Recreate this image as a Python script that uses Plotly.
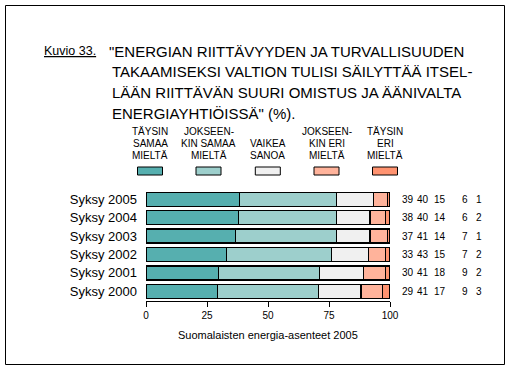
import plotly.graph_objects as go

# ---- data ----
years = ["Syksy 2005", "Syksy 2004", "Syksy 2003", "Syksy 2002", "Syksy 2001", "Syksy 2000"]
categories = ["TÄYSIN<br>SAMAA<br>MIELTÄ", "JOKSEEN-<br>KIN SAMAA<br>MIELTÄ", "VAIKEA<br>SANOA",
              "JOKSEEN-<br>KIN ERI<br>MIELTÄ", "TÄYSIN<br>ERI<br>MIELTÄ"]
# bar lengths (unrounded shares)
taysin_samaa = [38.3, 37.9, 36.7, 32.9, 29.7, 29.3]
jokseenkin_samaa = [39.7, 40.1, 41.3, 43.2, 41.4, 41.4]
vaikea_sanoa = [15.3, 13.8, 13.8, 15.0, 18.0, 17.4]
jokseenkin_eri = [5.7, 6.3, 7.2, 7.0, 9.0, 8.8]
taysin_eri = [1.0, 1.9, 1.0, 1.9, 1.9, 3.1]
# printed (rounded) labels on the right
label_taysin_samaa = [39, 38, 37, 33, 30, 29]
label_jokseenkin_samaa = [40, 40, 41, 43, 41, 41]
label_vaikea = [15, 14, 14, 15, 18, 17]
label_jokseenkin_eri = [6, 6, 7, 7, 9, 9]
label_taysin_eri = [1, 2, 1, 2, 2, 3]
x_ticks = [0, 25, 50, 75, 100]

series = [taysin_samaa, jokseenkin_samaa, vaikea_sanoa, jokseenkin_eri, taysin_eri]
labels = [label_taysin_samaa, label_jokseenkin_samaa, label_vaikea, label_jokseenkin_eri, label_taysin_eri]
colors = ["#56AFAF", "#9DCFCC", "#F0F0F0", "#FFB39B", "#FF9370"]

W, H = 509, 370
L, R, T, B = 146, 119, 190, 69
FONT = "Liberation Sans, Arial, sans-serif"


def px_x(px):
    """window pixel x -> paper coordinate"""
    return (px - L) / (W - L - R)


def px_y(py):
    """window pixel y -> paper coordinate"""
    return (H - B - py) / (H - T - B)


fig = go.Figure()
for name, vals, col in zip(categories, series, colors):
    fig.add_trace(go.Bar(
        y=years, x=vals, orientation="h", name=name.replace("<br>", " "),
        marker=dict(color=col, line=dict(color="black", width=1.5)),
        hoverinfo="skip", showlegend=False,
    ))

annotations = []
shapes = []

# outer frame
shapes.append(dict(type="rect", xref="paper", yref="paper",
                   x0=px_x(5.5), x1=px_x(504.5), y0=px_y(364.5), y1=px_y(5.5),
                   line=dict(color="black", width=1), fillcolor="rgba(0,0,0,0)", layer="above"))

# title
annotations.append(dict(xref="paper", yref="paper", x=px_x(42), y=px_y(51), xanchor="left",
                        yanchor="middle", showarrow=False, text="<u>Kuvio 33.</u>",
                        font=dict(family=FONT, size=12.5, color="black")))
title_lines = ['"ENERGIAN RIITTÄVYYDEN JA TURVALLISUUDEN',
               'TAKAAMISEKSI VALTION TULISI SÄILYTTÄÄ ITSEL-',
               'LÄÄN RIITTÄVÄN SUURI OMISTUS JA ÄÄNIVALTA',
               'ENERGIAYHTIÖISSÄ" (%).']
for i, line in enumerate(title_lines):
    annotations.append(dict(xref="paper", yref="paper", x=px_x(107 if i == 0 else 110),
                            y=px_y(51 + i * 20.7), xanchor="left", yanchor="middle",
                            showarrow=False, text=line,
                            font=dict(family=FONT, size=15, color="black")))

# custom legend
leg_cx = [150, 208.5, 267.8, 326.5, 385]
for cx, name, col in zip(leg_cx, categories, colors):
    shapes.append(dict(type="rect", xref="paper", yref="paper",
                       x0=px_x(cx - 12.5), x1=px_x(cx + 12.5), y0=px_y(175), y1=px_y(167),
                       line=dict(color="black", width=1), fillcolor=col))
    parts = name.split("<br>")
    n = len(parts)
    for j, p in enumerate(parts):
        yy = 155.6 - (n - 1 - j) * 12.3
        annotations.append(dict(xref="paper", yref="paper", x=px_x(cx), y=px_y(yy),
                                xanchor="center", yanchor="middle", showarrow=False, text=p,
                                font=dict(family=FONT, size=10, color="black")))

# value columns on the right
col_x = [407.5, 423, 440.3, 464.7, 479.3]
for cx, lab in zip(col_x, labels):
    for yr, v in zip(years, lab):
        annotations.append(dict(xref="paper", yref="y", x=px_x(cx), y=yr, xanchor="center",
                                yanchor="middle", showarrow=False, text=str(v),
                                font=dict(family=FONT, size=10, color="black")))

# x-axis title
annotations.append(dict(xref="paper", yref="paper", x=0.5, y=px_y(335), xanchor="center",
                        yanchor="middle", showarrow=False,
                        text="Suomalaisten energia-asenteet 2005",
                        font=dict(family=FONT, size=11, color="black")))

fig.update_layout(
    width=W, height=H,
    margin=dict(l=L, r=R, t=T, b=B, autoexpand=False),
    paper_bgcolor="white", plot_bgcolor="white",
    barmode="stack", bargap=0.24,
    font=dict(family=FONT, color="black"),
    xaxis=dict(range=[0, 100], tickvals=x_ticks, showgrid=False, zeroline=False,
               showline=True, linecolor="black", linewidth=1, ticks="outside",
               ticklen=5, tickcolor="black", tickfont=dict(size=10, family=FONT, color="black"),
               fixedrange=True),
    yaxis=dict(categoryorder="array", categoryarray=list(reversed(years)),
               range=[-0.527, 5.505], showgrid=False, zeroline=False, showline=False,
               ticks="", ticklabelstandoff=8,
               tickfont=dict(size=13, family=FONT, color="black"), fixedrange=True),
    annotations=annotations, shapes=shapes,
)

# remove the default 8px page margin so the 509x370 figure fills the window exactly
fig.write_html("out.html", config={"displayModeBar": False},
               post_script="document.body.style.margin='0';document.body.style.overflow='hidden';")
